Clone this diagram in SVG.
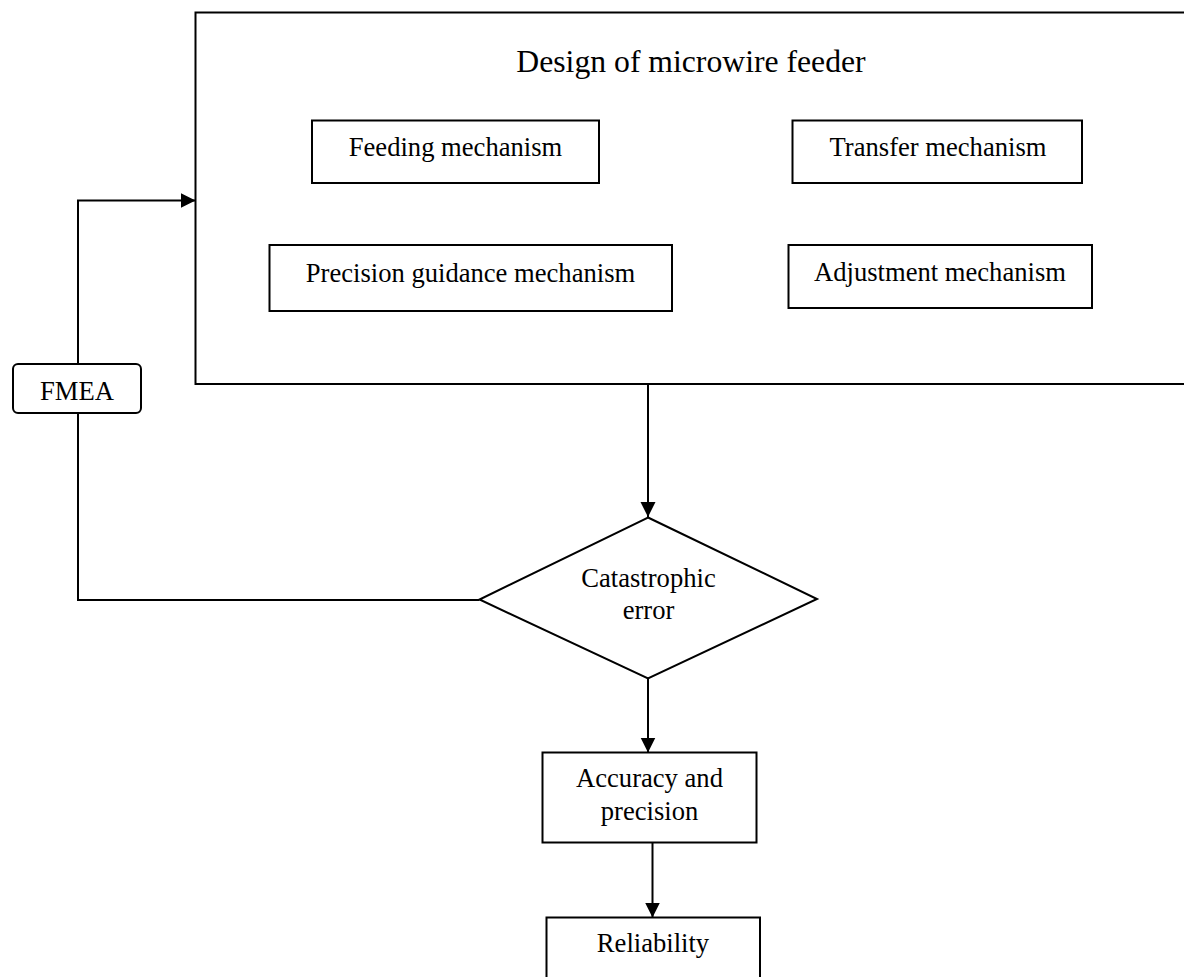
<svg xmlns="http://www.w3.org/2000/svg" width="1184" height="977" viewBox="0 0 1184 977">
<defs>
<style>
.box{fill:#fff;stroke:#000;stroke-width:2}
.ln{fill:none;stroke:#000;stroke-width:2}
.t{font-family:"Liberation Serif","Times New Roman",serif;font-size:26.6px;fill:#000;text-anchor:middle}
.title{font-size:31.7px}
</style>
<marker id="arr" markerUnits="userSpaceOnUse" markerWidth="16" markerHeight="16" refX="15" refY="7.5" orient="auto">
<path d="M0,0 L15,7.5 L0,15 z" fill="#000"/>
</marker>
</defs>
<rect width="1184" height="977" fill="#fff"/>
<g id="design">
<rect class="box" x="195.5" y="12.5" width="1000" height="371.5"/>
<text class="t title" x="691" y="72">Design of microwire feeder</text>
</g>
<g id="feeding">
<rect class="box" x="312" y="120.5" width="287" height="62.5"/>
<text class="t" x="455.5" y="156">Feeding mechanism</text>
</g>
<g id="transfer">
<rect class="box" x="792.5" y="120.5" width="289.5" height="62.5"/>
<text class="t" x="938" y="156">Transfer mechanism</text>
</g>
<g id="precision">
<rect class="box" x="269.5" y="245" width="402.5" height="66"/>
<text class="t" x="470.5" y="281.5">Precision guidance mechanism</text>
</g>
<g id="adjustment">
<rect class="box" x="788.5" y="245" width="303.5" height="63"/>
<text class="t" x="940" y="281">Adjustment mechanism</text>
</g>
<g id="fmea">
<rect class="box" x="13" y="364" width="128" height="49" rx="5"/>
<text class="t" x="77" y="400">FMEA</text>
</g>
<g id="catastrophic">
<polygon class="box" points="648,517.5 817,599 648,678.5 479.5,599.5"/>
<text class="t" x="648.5" y="587">Catastrophic</text>
<text class="t" x="648.5" y="619">error</text>
</g>
<g id="accuracy">
<rect class="box" x="542.5" y="752.5" width="214" height="90"/>
<text class="t" x="649.5" y="787">Accuracy and</text>
<text class="t" x="649.5" y="820">precision</text>
</g>
<g id="reliability">
<rect class="box" x="546.5" y="917.5" width="213.5" height="80"/>
<text class="t" x="653" y="951.5">Reliability</text>
</g>
<g id="connectors">
<path class="ln" d="M648,384 L648,517" marker-end="url(#arr)"/>
<path class="ln" d="M648,678.5 L648,752.5" marker-end="url(#arr)"/>
<path class="ln" d="M652.5,842.5 L652.5,917.5" marker-end="url(#arr)"/>
<path class="ln" d="M479.5,600 L78,600 L78,413"/>
<path class="ln" d="M78,364 L78,200.5 L195.5,200.5" marker-end="url(#arr)"/>
</g>
</svg>
